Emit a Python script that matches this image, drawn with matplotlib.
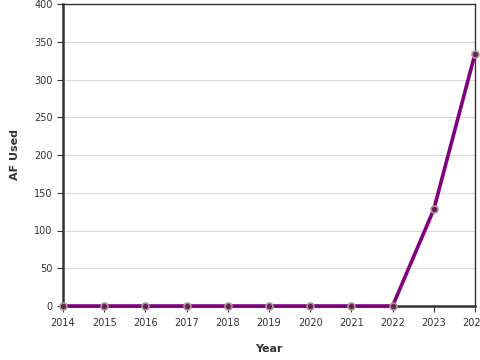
import matplotlib
matplotlib.use("Agg")
import matplotlib.pyplot as plt

years = [2014, 2015, 2016, 2017, 2018, 2019, 2020, 2021, 2022, 2023, 2024]
af_used = [0, 0, 0, 0, 0, 0, 0, 0, 0, 128, 334]
yticks = [0, 50, 100, 150, 200, 250, 300, 350, 400]

fig = plt.figure(figsize=(4.8, 3.6), dpi=100)
ax = fig.add_axes([63/480, 54/360, 412/480, 302/360])
ax.set_xlim(2014, 2024)
ax.set_ylim(0, 400)
ax.set_yticks(yticks)
ax.set_xticks(years)
ax.grid(axis='y', color='#d9d9d9', linewidth=0.8)
ax.set_axisbelow(True)
ax.plot(years, af_used, color='#800080', linewidth=2.6, zorder=3, clip_on=False)
ax.plot(years, af_used, linestyle='none', marker='o', markersize=5,
        markerfacecolor='#6a1d5a', markeredgecolor='#a89a8a', markeredgewidth=1.2,
        zorder=4, clip_on=False)
for s in ['left', 'bottom']:
    ax.spines[s].set_linewidth(1.8)
    ax.spines[s].set_color('#333333')
for s in ['top', 'right']:
    ax.spines[s].set_linewidth(1.0)
    ax.spines[s].set_color('#333333')
ax.tick_params(axis='both', labelsize=7, colors='#333333', length=4, width=0.8)
ax.tick_params(axis='x', pad=5)
ax.set_xlabel('Year', fontsize=8, fontweight='bold', color='#333333', labelpad=11)
ax.set_ylabel('AF Used', fontsize=8, fontweight='bold', color='#333333', labelpad=10)
fig.savefig('out.png', dpi=100)
